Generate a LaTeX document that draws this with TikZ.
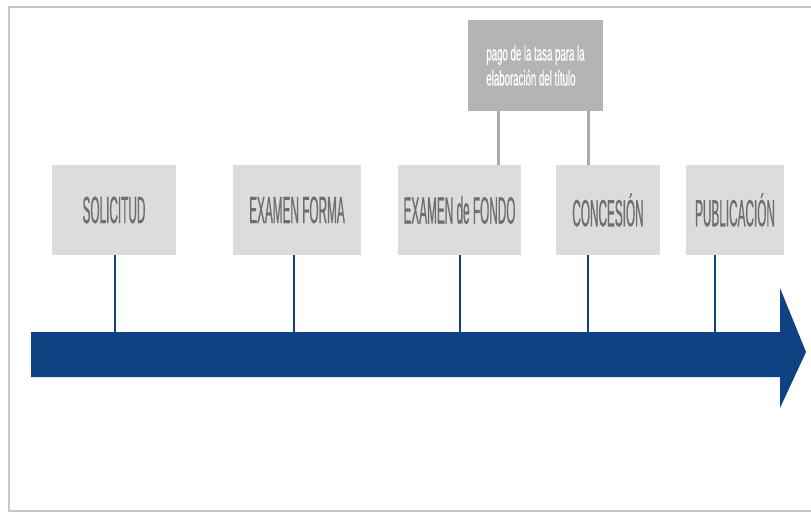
\documentclass[tikz,border=0pt]{standalone}
\usepackage{fontspec}
\setmainfont{Liberation Sans}
\newfontfamily\stagefont[FakeStretch=0.31,FakeBold=0.5]{Liberation Sans}
\newfontfamily\notefont[FakeStretch=0.46,FakeBold=0.4]{Liberation Sans}
\definecolor{navy}{RGB}{14,66,131}
\definecolor{boxgray}{RGB}{220,220,220}
\definecolor{notegray}{RGB}{180,180,180}
\definecolor{textgray}{RGB}{110,110,110}
\definecolor{linkgray}{RGB}{170,170,170}
\definecolor{framegray}{RGB}{200,200,200}

\begin{document}
\begin{tikzpicture}[x=1pt,y=-1pt,
    stage/.style={fill=boxgray,minimum height=90pt,inner sep=0pt,text=textgray,
      font=\stagefont\fontsize{38}{44}\selectfont},
    note/.style={fill=notegray,minimum width=135pt,minimum height=91pt,inner sep=0pt,
      text=white,align=left,font=\notefont\fontsize{21}{25}\selectfont},
    tick/.style={navy,line width=2.5pt},
    link/.style={linkgray,line width=3pt}]
    \useasboundingbox (0,0) rectangle (811,513);
    % frame
    \draw[framegray,line width=1.5pt] (811,7) -- (9,7) -- (9,511) -- (811,511);
    % time arrow
    \fill[navy] (31,332) -- (780,332) -- (780,288) -- (806,352) -- (780,408)
      -- (780,377) -- (31,377) -- cycle;
    % stages
    \node[stage,minimum width=124pt] (solicitud) at (114,210) {SOLICITUD};
    \node[stage,minimum width=128pt] (forma) at (297,210) {EXAMEN FORMA};
    \node[stage,minimum width=123pt] (fondo) at (459.5,210) {EXAMEN de FONDO};
    \node[stage,minimum width=104pt] (concesion) at (608,210) {CONCESIÓN};
    \node[stage,minimum width=98pt] (publicacion) at (735,210) {PUBLICACIÓN};
    % fee box
    \node[note] (tasa) at (535.5,65.5) {pago de la tasa para la\\elaboración del título};
    % ticks on the arrow
    \coordinate (k1) at (115,334);
    \coordinate (k2) at (294,334);
    \coordinate (k3) at (460,334);
    \coordinate (k4) at (588,334);
    \coordinate (k5) at (715,334);
    \foreach \n/\k in {solicitud/k1,forma/k2,fondo/k3,concesion/k4,publicacion/k5}
    \draw[tick] (\n.south -| \k) -- (\k);
    % links from the fee box
    \coordinate (g1) at (498,0);
    \draw[link] (tasa.south -| g1) -- (fondo.north -| g1);
    \draw[link] (tasa.south -| k4) -- (concesion.north -| k4);
\end{tikzpicture}
\end{document}
